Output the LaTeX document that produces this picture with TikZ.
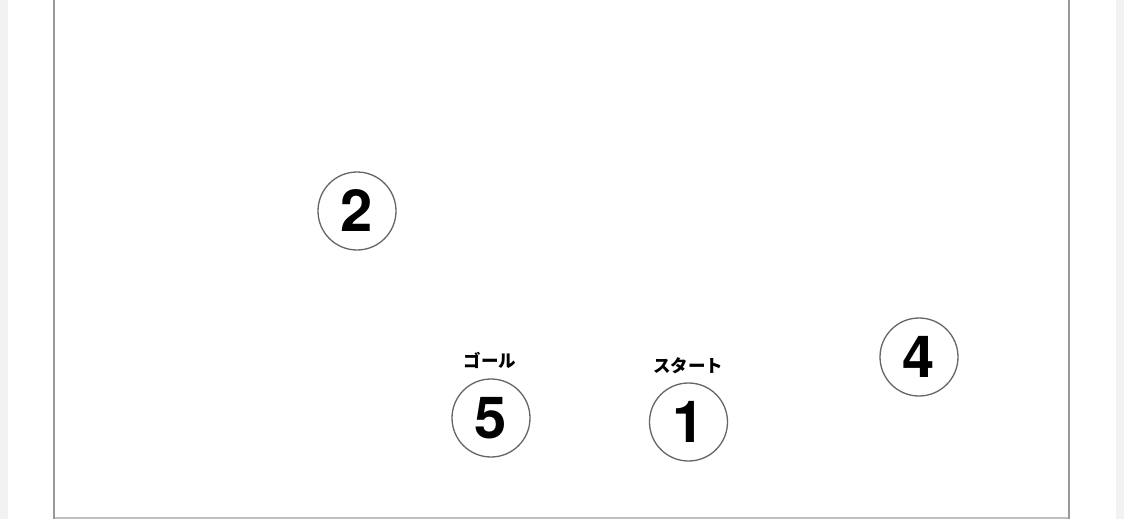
\documentclass[tikz,border=0pt]{standalone}
\usepackage{fontspec}
\newfontfamily\heros{TeX Gyre Heros}
\newfontfamily\jp{Noto Sans CJK JP}
\begin{document}
\begin{tikzpicture}[x=1pt,y=-1pt,
  spot/.style={circle,draw=black!60,line width=1.3pt,minimum size=78pt,inner sep=0pt,
    font=\heros\bfseries\fontsize{58}{58}\selectfont,text=black},
  lab/.style={font=\jp\bfseries\fontsize{17.5}{17.5}\selectfont,text=black,inner sep=0pt}]
\useasboundingbox (0,0) rectangle (1124,519);
\fill[white] (0,0) rectangle (1124,519);
\fill[black!5] (0,0) rectangle (7.5,519);
\fill[black!5] (1116,0) rectangle (1124,519);
\draw[black!25,line width=1.6pt] (53.5,518) -- (1069,518);
\draw[black!40,line width=2pt] (53.5,-2) -- (53.5,519);
\draw[black!40,line width=2pt] (1069,-2) -- (1069,519);
\node[spot] (n2) at (357,211) {2};
\node[spot] (n5) at (491,418) {5};
\node[spot] (n1) at (688.5,422) {1};
\node[spot] (n4) at (919,357) {4};
\node[lab] (goal) at (490,360) {ゴール};
\node[lab] (start) at (688,366) {スタート};
\end{tikzpicture}
\end{document}
